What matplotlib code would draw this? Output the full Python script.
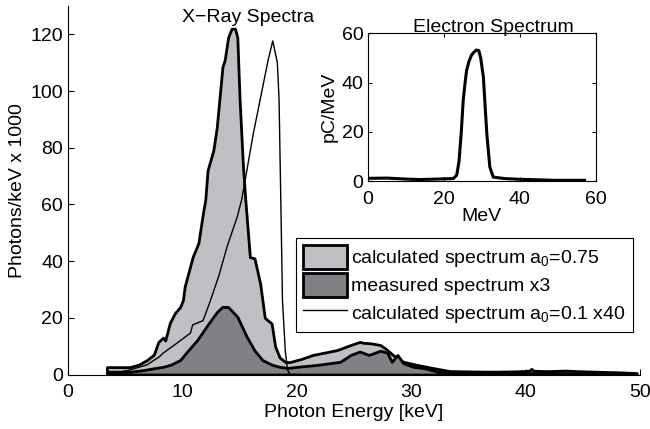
import matplotlib
matplotlib.use("Agg")
import matplotlib.pyplot as plt
from matplotlib.patches import Patch
from matplotlib.lines import Line2D

plt.rcParams['font.family'] = ['Liberation Sans', 'DejaVu Sans']
plt.rcParams['font.size'] = 14

# Calculated spectrum a0=0.75 (light gray area)
calc_x = [3.4, 5.0, 5.4, 6.2, 6.9, 7.5, 7.9, 8.3, 8.5, 8.9, 9.35, 9.8, 10.05, 10.2,
          10.9, 11.4, 11.8, 12.0, 12.2, 12.7, 13.0, 13.5, 13.7, 14.0, 14.3, 14.6,
          14.8, 15.0, 15.3, 15.5, 15.9, 16.3, 16.8, 17.2, 17.5, 17.8, 18.1, 18.5,
          19.0, 19.4, 20.4, 21.4, 22.5, 23.5, 24.7, 25.5, 25.8, 26.5, 27.3, 27.8,
          28.4, 29.3, 30.5, 31.9, 33.4, 35.0, 37.0, 39.0, 40.3, 40.5, 40.7, 42.0,
          43.5, 44.5, 46.0, 48.0, 49.7]
calc_y = [2.6, 2.6, 2.6, 3.5, 5.1, 7.0, 11.5, 13.0, 12.0, 18.2, 21.7, 23.8, 26.3, 31.0,
          41.5, 46.4, 57.0, 61.6, 72.0, 79.0, 87.0, 108.5, 111.0, 119.0, 122.0, 122.0,
          119.0, 97.0, 73.0, 61.6, 41.4, 41.0, 32.0, 20.0, 19.0, 18.0, 10.0, 6.0,
          4.4, 4.4, 5.5, 6.9, 7.8, 8.6, 10.4, 11.5, 11.2, 11.0, 10.4, 9.0,
          6.9, 4.5, 3.4, 2.3, 1.2, 1.1, 1.0, 1.1, 1.3, 2.0, 1.3, 1.2,
          1.4, 1.2, 1.0, 0.8, 0.5]

# Measured spectrum x3 (dark gray area)
meas_x = [3.4, 4.5, 5.4, 6.5, 7.5, 8.3, 9.0, 9.8, 10.5, 11.3, 12.2, 13.0, 13.5, 14.0,
          14.8, 15.6, 16.3, 17.0, 17.8, 18.5, 19.2, 20.0, 21.8, 23.8, 24.7, 25.5,
          26.3, 27.3, 27.9, 28.3, 28.8, 29.3, 30.2, 31.2, 32.3, 34.0, 37.0, 40.0,
          43.0, 46.0, 49.7]
meas_y = [1.0, 1.0, 1.0, 1.5, 2.2, 2.7, 3.5, 5.1, 8.5, 12.2, 17.5, 22.0, 23.9, 23.8,
          20.4, 13.5, 8.5, 5.1, 3.5, 2.7, 2.3, 2.7, 3.4, 4.5, 6.9, 8.1,
          6.9, 8.4, 7.7, 4.5, 6.9, 4.0, 2.7, 2.2, 1.0, 0.6, 0.5, 0.5,
          0.5, 0.4, 0.3]

# Calculated spectrum a0=0.1 x40 (thin line)
low_x = [4.0, 5.4, 6.9, 8.0, 8.3, 9.5, 10.7, 10.9, 11.8, 12.4, 13.2, 13.9, 14.8, 15.2,
         16.2, 17.0, 17.5, 17.9, 18.3, 18.45, 18.6, 18.75, 19.0, 19.2, 19.4, 20.0]
low_y = [0.5, 1.6, 3.4, 6.3, 7.5, 11.0, 14.6, 17.5, 19.0, 25.5, 35.0, 45.0, 55.7, 62.0,
         85.0, 101.0, 111.0, 117.7, 110.0, 97.0, 62.0, 26.0, 8.0, 1.6, 0.0, 0.0]

# Electron spectrum (inset)
el_x = [0, 5, 10, 13.7, 18, 22.5, 23.4, 24.0, 24.6, 25.1, 25.6, 26.0, 26.6, 27.3,
        28.0, 28.6, 29.2, 29.7, 30.4, 31.3, 32.1, 33.0, 36, 40, 45, 48.8, 53, 57]
el_y = [1.1, 1.2, 0.8, 0.6, 0.8, 1.0, 2.4, 8.0, 20.0, 32.8, 40.0, 45.0, 48.5, 51.2,
        52.5, 53.2, 53.0, 50.0, 42.3, 19.3, 5.7, 1.6, 1.0, 0.7, 0.5, 0.3, 0.3, 0.3]

light = '#bfc0c3'
dark = '#808184'

fig = plt.figure(figsize=(6.5, 4.29), dpi=100)
ax = fig.add_axes([0.1046, 0.127, 0.88, 0.859])

ax.fill_between(calc_x, 0, calc_y, facecolor=light, edgecolor='black', linewidth=2, zorder=2)
ax.fill_between(meas_x, 0, meas_y, facecolor=dark, edgecolor='black', linewidth=2, zorder=3)
ax.plot(low_x, low_y, color='black', linewidth=1, zorder=4)

ax.set_xlim(0, 50)
ax.set_ylim(0, 130)
ax.set_xticks([0, 10, 20, 30, 40, 50])
ax.set_yticks([0, 20, 40, 60, 80, 100, 120])
ax.tick_params(direction='in', length=4, width=0.8)
ax.tick_params(axis='x', pad=7)
ax.spines['top'].set_visible(False)
ax.spines['right'].set_visible(False)
for s in ['left', 'bottom']:
    ax.spines[s].set_linewidth(0.8)
ax.set_xlabel('Photon Energy [keV]', labelpad=2)
ax.set_ylabel('Photons/keV x 1000', labelpad=3)
ax.text(15.7, 126, 'X\u2212Ray Spectra', ha='center', va='center')

handles = [
    Patch(facecolor=light, edgecolor='black', linewidth=2),
    Patch(facecolor=dark, edgecolor='black', linewidth=2),
    Line2D([], [], color='black', linewidth=1),
]
labels = [
    r'calculated spectrum $\mathregular{a_0}$=0.75',
    'measured spectrum x3',
    r'calculated spectrum $\mathregular{a_0}$=0.1 x40',
]
leg = ax.legend(handles, labels, loc='upper left', bbox_to_anchor=(0.455, 0.445),
                bbox_transform=fig.transFigure, borderaxespad=0, fancybox=False,
                framealpha=1, edgecolor='black', handlelength=2.3, handleheight=1.5,
                handletextpad=0.2, labelspacing=0.2, borderpad=0.35)
leg.get_frame().set_linewidth(0.8)
leg.set_zorder(5)

# Inset with the electron spectrum
ins = fig.add_axes([0.5657, 0.578, 0.3512, 0.3443])
ins.plot(el_x, el_y, color='black', linewidth=2.2)
ins.set_xlim(0, 60)
ins.set_ylim(0, 60)
ins.set_xticks([0, 20, 40, 60])
ins.set_yticks([0, 20, 40, 60])
ins.tick_params(direction='in', length=3, width=0.8, top=True, right=True, pad=3)
ins.tick_params(axis='x', pad=7)
for s in ins.spines.values():
    s.set_linewidth(0.8)
ins.set_xlabel('MeV', labelpad=0)
ins.set_ylabel('pC/MeV', labelpad=3)
ins.set_title('Electron Spectrum', pad=1, x=0.55, fontsize=14)

fig.savefig('out.png', dpi=100)
